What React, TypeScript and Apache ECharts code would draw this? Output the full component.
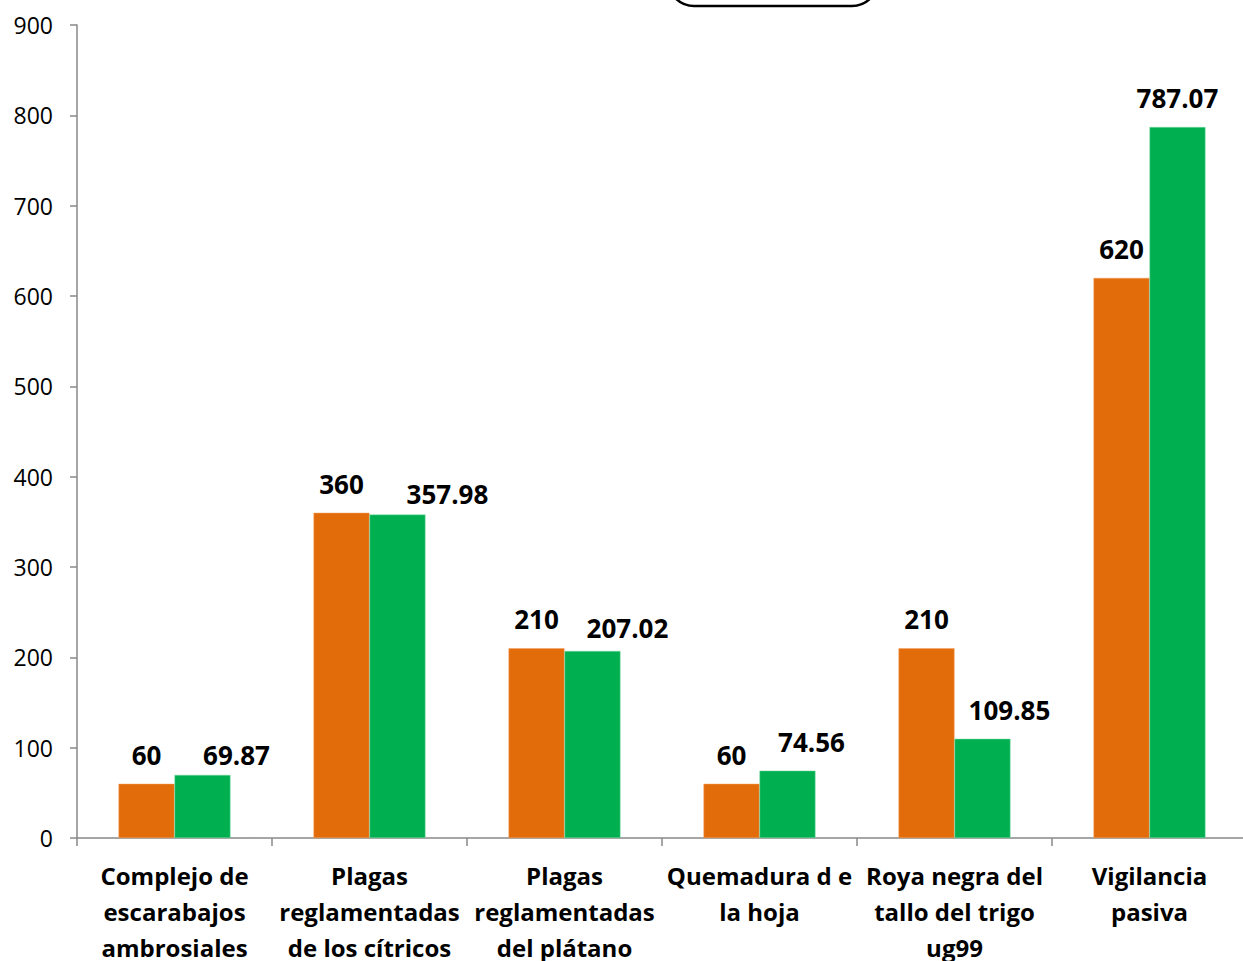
import React, { useEffect, useRef } from "react";
import * as echarts from "echarts";

const categories = [
  "Complejo de\nescarabajos\nambrosiales",
  "Plagas\nreglamentadas\nde los cítricos",
  "Plagas\nreglamentadas\ndel plátano",
  "Quemadura d e\nla hoja",
  "Roya negra del\ntallo del trigo\nug99",
  "Vigilancia\npasiva",
];
const seriesA = [60, 360, 210, 60, 210, 620];
const seriesB = [69.87, 357.98, 207.02, 74.56, 109.85, 787.07];
const yTicks = { min: 0, max: 900, interval: 100 };

// label offsets (style only) for series B labels
const labelOffsetsB: [number, number][] = [
  [34, 9],
  [50, 8],
  [35, 6],
  [24, 0],
  [27, 0],
  [0, 0],
];

const FONT = "'Open Sans', sans-serif";

export default function App() {
  const ref = useRef<HTMLDivElement>(null);
  useEffect(() => {
    if (!ref.current) return;
    const chart = echarts.init(ref.current, undefined, { renderer: "svg" });
    const labelBase = {
      show: true,
      position: "top" as const,
      distance: 16,
      fontFamily: FONT,
      fontWeight: "bold" as const,
      fontSize: 26,
      color: "#000",
    };
    chart.setOption({
      animation: false,
      backgroundColor: "#fff",
      textStyle: { fontFamily: FONT },
      grid: {
        left: 77,
        right: -4,
        top: 25,
        bottom: 123,
        containLabel: false,
        outerBoundsMode: "none",
      },
      xAxis: {
        type: "category",
        data: categories,
        axisLine: { lineStyle: { color: "#888", width: 1.5 } },
        axisTick: { show: true, alignWithLabel: false, length: 8, lineStyle: { color: "#888", width: 1.5 } },
        axisLabel: {
          interval: 0,
          margin: 19,
          fontFamily: FONT,
          fontWeight: "bold",
          fontSize: 24,
          lineHeight: 36,
          color: "#000",
          hideOverlap: false,
        },
      },
      yAxis: {
        type: "value",
        min: yTicks.min,
        max: yTicks.max,
        interval: yTicks.interval,
        splitLine: { show: false },
        axisLine: { show: true, lineStyle: { color: "#888", width: 1.5 } },
        axisTick: { show: true, length: 7, lineStyle: { color: "#888", width: 1.5 } },
        axisLabel: { margin: 24, fontFamily: FONT, fontSize: 23, color: "#000" },
      },
      series: [
        {
          type: "bar",
          data: seriesA,
          barGap: "0%",
          barCategoryGap: "42.6%",
          itemStyle: { color: "#E36C0A", borderColor: "#F0A060", borderWidth: 0.5 },
          label: labelBase,
        },
        {
          type: "bar",
          data: seriesB.map((v, i) => ({
            value: v,
            label: { ...labelBase, offset: labelOffsetsB[i] },
          })),
          itemStyle: { color: "#00B050", borderColor: "#7FD8A7", borderWidth: 0.5 },
          label: labelBase,
        },
      ],
      graphic: [
        {
          type: "rect",
          shape: { x: 668, y: -50, width: 210, height: 56, r: 26 },
          style: { fill: "#fff", stroke: "#000", lineWidth: 2.5 },
          z: 100,
        },
      ],
    });
    return () => chart.dispose();
  }, []);
  return (
    <div
      ref={ref}
      style={{ position: "fixed", left: 0, top: 0, width: 1243, height: 961 }}
    />
  );
}
